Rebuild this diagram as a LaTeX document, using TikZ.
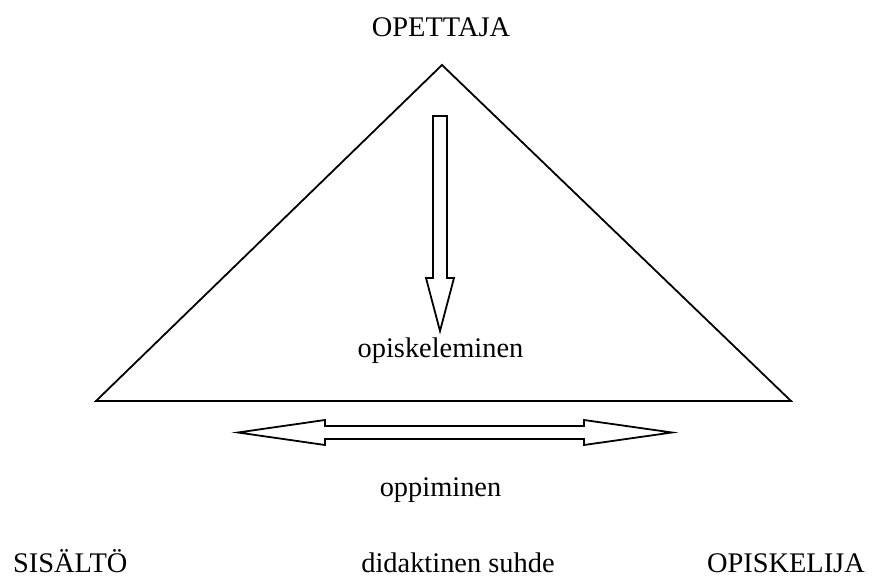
\documentclass[tikz,border=0pt]{standalone}
\usepackage{fontspec}
\setmainfont{Liberation Serif}
\begin{document}
\begin{tikzpicture}[x=1pt,y=-1pt,
  lbl/.style={inner sep=0pt,font=\fontsize{28.4}{34}\selectfont},
  outl/.style={draw=black,line width=1.8pt,line join=miter,fill=white}]
\useasboundingbox (0,0) rectangle (872,577);
% triangle
\draw[outl] (442,65) -- (791,401) -- (96,401) -- cycle;
% down arrow
\draw[outl] (433,116) -- (447,116) -- (447,278) -- (454,278) -- (440,331) -- (426,278) -- (433,278) -- cycle;
% double arrow
\draw[outl] (238,432.5) -- (325,420) -- (325,426) -- (584,426) -- (584,420) -- (672,432.5) -- (584,445) -- (584,439) -- (325,439) -- (325,445) -- cycle;
% labels
\node[lbl,anchor=base] (opettaja) at (441,37) {OPETTAJA};
\node[lbl,anchor=base] (opisk) at (440.5,357) {opiskeleminen};
\node[lbl,anchor=base] (oppim) at (440.5,496) {oppiminen};
\node[lbl,anchor=base west] (sisalto) at (13,572) {SISÄLTÖ};
\node[lbl,anchor=base] (didak) at (458,572) {didaktinen suhde};
\node[lbl,anchor=base east] (opiskelija) at (865,572) {OPISKELIJA};
\end{tikzpicture}
\end{document}
